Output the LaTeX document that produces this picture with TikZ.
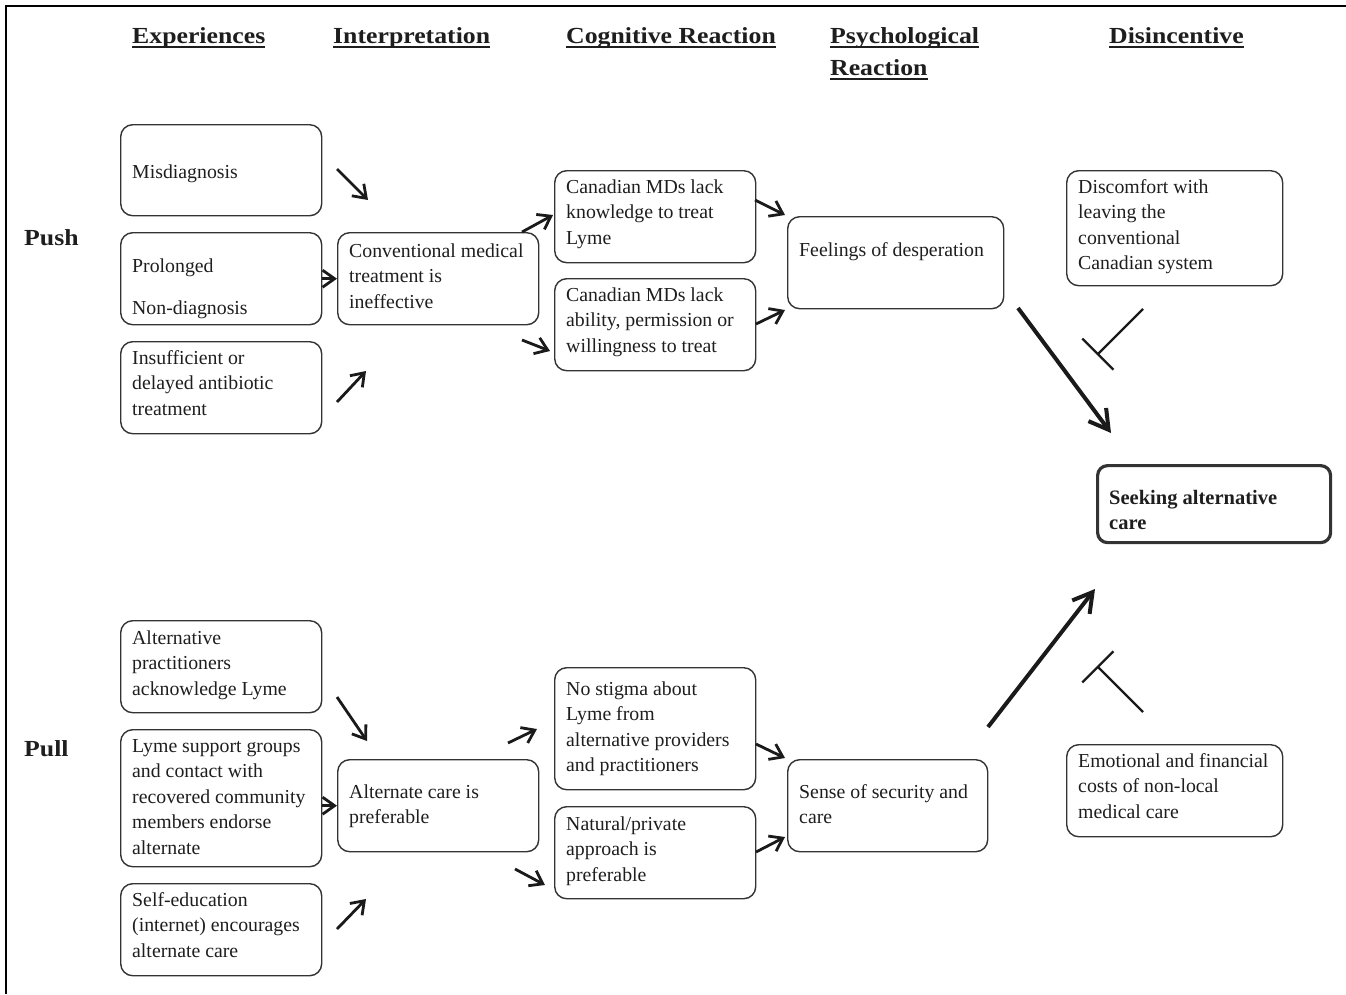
\documentclass[tikz,border=0pt]{standalone}
\usepackage{fontspec}
\setmainfont{Liberation Serif}
\newfontfamily\hdfont[FakeStretch=1.12]{Liberation Serif}
\usetikzlibrary{arrows.meta,calc}
\definecolor{boxc}{HTML}{333333}
\definecolor{txtc}{HTML}{1E1E1E}
\definecolor{arrc}{HTML}{1A1A1A}
\newcommand\bodyf{\fontsize{19.8}{25.5}\selectfont}
\newcommand\headf{\hdfont\bfseries\fontsize{23}{32}\selectfont}
\newcommand\mkbox[6][]{\node[box,#1,minimum width={#4pt-#2pt},minimum height={#5pt-#3pt}] (#6) at (#2,#3) {};}
\newcommand\btxt[5][]{\node[txt,#1] (#2) at (#3,#4-17.85) {\strut #5};}
\newcommand\hdr[4]{\node[hd] (#1) at (#2,#3) {#4};
  \draw[ul] ($(#1.base west)+(0,3.5)$) -- ($(#1.base east)+(0,3.5)$);}
\tikzset{
  box/.style={draw=boxc, line width=1.4pt, rounded corners=12pt, inner sep=0pt, anchor=north west},
  bigbox/.style={box, line width=3.2pt, rounded corners=10pt},
  txt/.style={anchor=north west, inner sep=0pt, align=left, text=txtc, font=\bodyf},
  hd/.style={anchor=base west, inner sep=0pt, text=txtc, font=\headf},
  ul/.style={draw=txtc, line width=1.8pt},
  arr/.style={draw=arrc, line width=2.8pt, -{Straight Barb[length=12pt,width=17pt]}},
  bigarr/.style={draw=arrc, line width=4pt, -{Straight Barb[length=19pt,width=22pt]}},
  inh/.style={draw=arrc, line width=2.4pt, -{Bar[width=44pt]}},
  frame/.style={draw=black, line width=2.6pt}
}
\begin{document}
\begin{tikzpicture}[x=1pt,y=-1pt]
\useasboundingbox (0,0) rectangle (1346,994);
\draw[frame] (6,994) -- (6,6) -- (1346,6);

% headers
\hdr{hExp}{132}{43.5}{Experiences}
\hdr{hInt}{333}{43.5}{Interpretation}
\hdr{hCog}{566}{43.5}{Cognitive Reaction}
\hdr{hPsy}{830}{43.5}{Psychological}
\hdr{hPsyb}{830}{75.5}{Reaction}
\hdr{hDis}{1109}{43.5}{Disincentive}
\node[hd] (push) at (24,245) {Push};
\node[hd] (pull) at (24,756) {Pull};

% push boxes
\mkbox{120}{124}{321}{215}{mis}
\btxt{misT}{132}{178}{Misdiagnosis}
\mkbox{120}{232}{321}{324}{pro}
\btxt{proT}{132}{272}{Prolonged\\[17pt]Non-diagnosis}
\mkbox{120}{341}{321}{433}{ins}
\btxt{insT}{132}{364}{Insufficient or\\delayed antibiotic\\treatment}
\mkbox{337}{232}{538}{324}{conv}
\btxt{convT}{349}{257}{Conventional medical\\treatment is\\ineffective}
\mkbox{554}{170}{755}{262}{ck}
\btxt{ckT}{566}{193}{Canadian MDs lack\\knowledge to treat\\Lyme}
\mkbox{554}{278}{755}{370}{ca}
\btxt{caT}{566}{301}{Canadian MDs lack\\ability, permission or\\willingness to treat}
\mkbox{787}{216}{1003}{308}{feel}
\btxt{feelT}{799}{256}{Feelings of desperation}
\mkbox{1066}{170}{1282}{285}{disc}
\btxt{discT}{1078}{193}{Discomfort with\\leaving the\\conventional\\Canadian system}

% outcome
\mkbox[bigbox]{1096}{464}{1329}{541}{seek}
\node[txt,font=\fontsize{20.5}{25}\selectfont\bfseries] (seekT) at (1109,504-17.5) {\strut Seeking alternative\\care};

% pull boxes
\mkbox{120}{620}{321}{712}{ap}
\btxt{apT}{132}{644}{Alternative\\practitioners\\acknowledge Lyme}
\mkbox{120}{729}{321}{866}{lsg}
\btxt{lsgT}{132}{752}{Lyme support groups\\and contact with\\recovered community\\members endorse\\alternate}
\mkbox{120}{883}{321}{975}{se}
\btxt{seT}{132}{906}{Self-education\\(internet) encourages\\alternate care}
\mkbox{337}{759}{538}{851}{acp}
\btxt{acpT}{349}{798}{Alternate care is\\preferable}
\mkbox{554}{667}{755}{789}{ns}
\btxt{nsT}{566}{695}{No stigma about\\Lyme from\\alternative providers\\and practitioners}
\mkbox{554}{806}{755}{898}{np}
\btxt{npT}{566}{830}{Natural/private\\approach is\\preferable}
\mkbox{787}{759}{987}{851}{ssc}
\btxt{sscT}{799}{798}{Sense of security and\\care}
\mkbox{1066}{744}{1282}{836}{efc}
\btxt{efcT}{1078}{767}{Emotional and financial\\costs of non-local\\medical care}

% connector end points
\coordinate (a1s) at (337,169);  \coordinate (a1e) at (368,200);
\coordinate (a3s) at (337,402);  \coordinate (a3e) at (366,371);
\coordinate (a4s) at (522,232);  \coordinate (a4e) at (553,215);
\coordinate (a5s) at (522,340);  \coordinate (a5e) at (550,351);
\coordinate (a6s) at (755,200);  \coordinate (a6e) at (785,215);
\coordinate (a7s) at (756,324);  \coordinate (a7e) at (785,310);
\coordinate (a8s) at (1018,308); \coordinate (a8e) at (1111,433);
\coordinate (i1s) at (1143,309); \coordinate (i1e) at (1097,355);
\coordinate (b1s) at (337,697);  \coordinate (b1e) at (367,741);
\coordinate (b3s) at (337,929);  \coordinate (b3e) at (366,899);
\coordinate (b4s) at (508,743);  \coordinate (b4e) at (537,729);
\coordinate (b5s) at (515,869);  \coordinate (b5e) at (545,885);
\coordinate (b6s) at (756,744);  \coordinate (b6e) at (785,758);
\coordinate (b7s) at (756,852);  \coordinate (b7e) at (785,837);
\coordinate (b8s) at (988,727);  \coordinate (b8e) at (1095,589);
\coordinate (i2s) at (1143,712); \coordinate (i2e) at (1097,666);

% push connectors
\draw[arr] (a1s) -- (a1e);
\draw[arr] (pro.east) -- (conv.west);
\draw[arr] (a3s) -- (a3e);
\draw[arr] (a4s) -- (a4e);
\draw[arr] (a5s) -- (a5e);
\draw[arr] (a6s) -- (a6e);
\draw[arr] (a7s) -- (a7e);
\draw[bigarr] (a8s) -- (a8e);
\draw[inh] (i1s) -- (i1e);

% pull connectors
\draw[arr] (b1s) -- (b1e);
\draw[arr] (lsg.east |- acp.west) -- (acp.west);
\draw[arr] (b3s) -- (b3e);
\draw[arr] (b4s) -- (b4e);
\draw[arr] (b5s) -- (b5e);
\draw[arr] (b6s) -- (b6e);
\draw[arr] (b7s) -- (b7e);
\draw[bigarr] (b8s) -- (b8e);
\draw[inh] (i2s) -- (i2e);
\end{tikzpicture}
\end{document}
